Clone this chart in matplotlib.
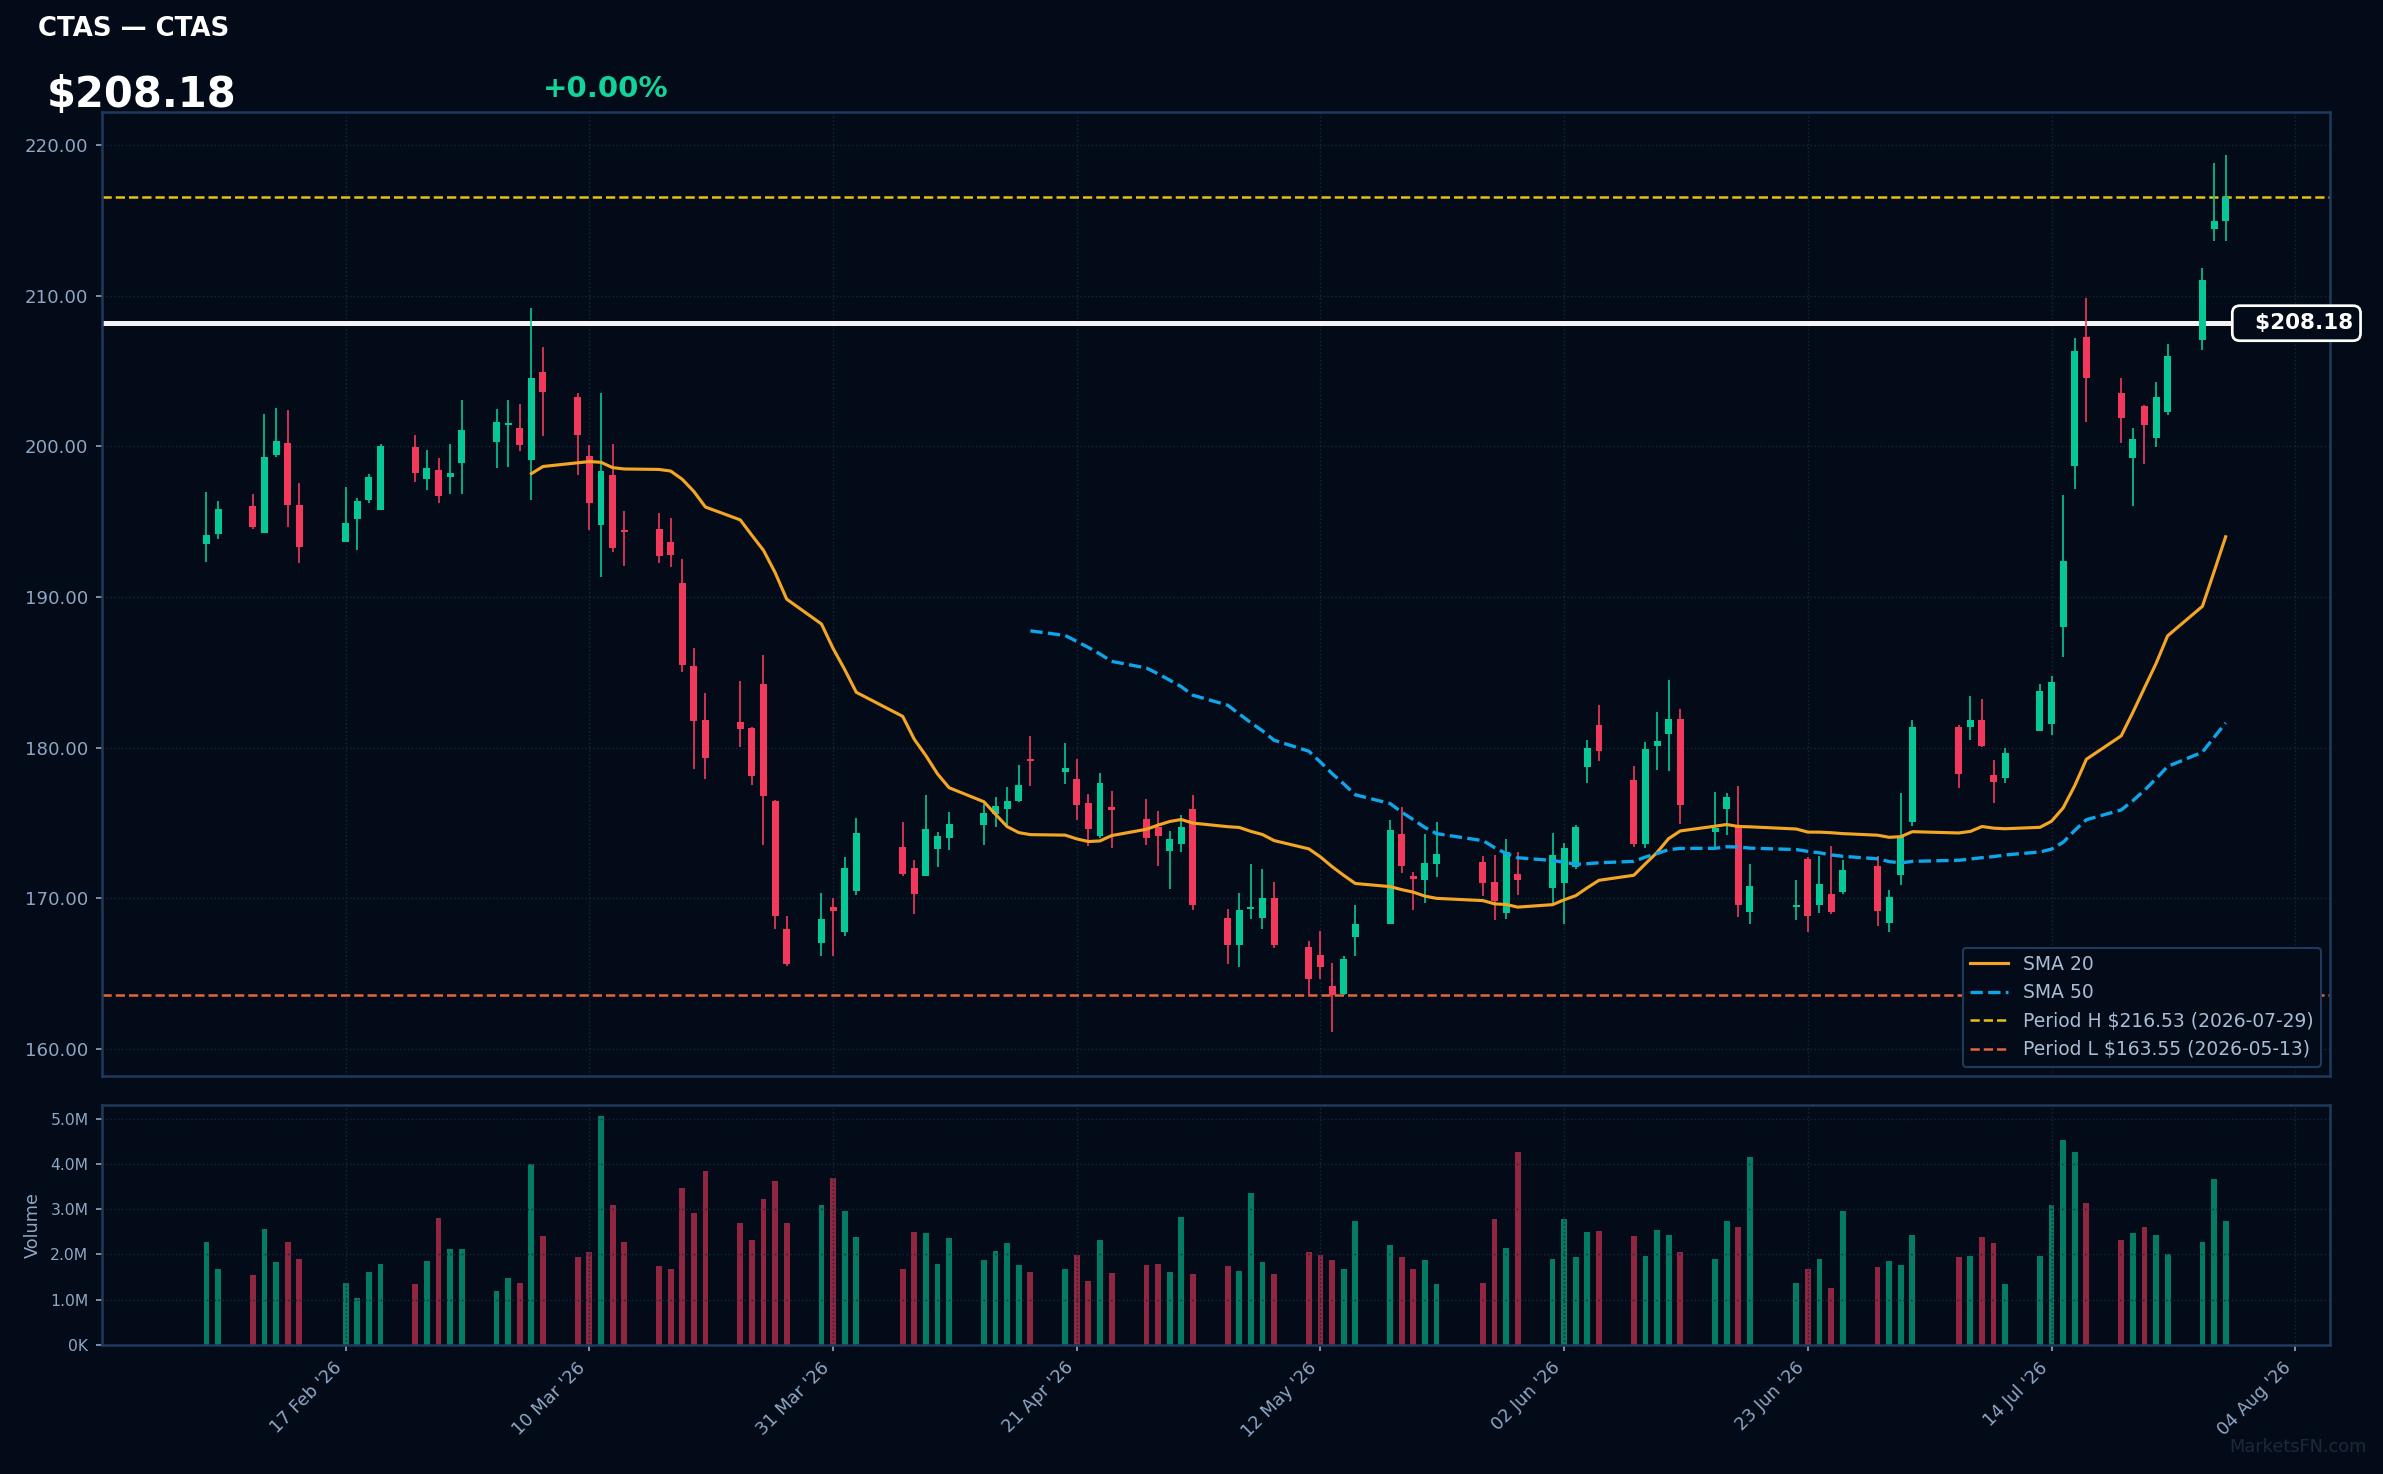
import matplotlib
matplotlib.use("Agg")
import matplotlib.pyplot as plt
import matplotlib.dates as mdates
import matplotlib.transforms as mtransforms
import numpy as np
import pandas as pd

# trading days (US market holidays skipped)
holidays = ["2026-02-16", "2026-04-03", "2026-05-25", "2026-06-19", "2026-07-03"]
dates = pd.bdate_range("2026-02-05", "2026-07-29", freq="C", holidays=holidays)

opens = [193.55, 194.21, 196.05, 194.28, 199.40, 200.24, 196.12, 193.66, 195.21, 196.45, 195.79, 199.96, 197.85, 198.45, 198.00, 198.87,
         200.27, 201.40, 201.24, 199.11, 204.97, 203.25, 199.35, 194.75, 198.10, 194.45, 194.50, 193.66, 190.93, 185.43, 181.86,
         181.72, 181.32, 184.24, 176.44, 167.94, 167.05, 169.43,
         167.75, 170.51, 173.41, 172.03, 171.49, 173.25, 173.98, 174.88, 175.61, 175.94, 176.47, 179.27, 178.39, 177.90, 176.31,
         174.15, 176.05, 175.25, 174.72, 173.16, 173.62,
         175.92, 168.70, 166.87, 169.27, 168.72, 170.00, 166.78, 166.23, 164.19, 163.66, 167.46, 168.32, 174.26, 171.40, 171.21,
         172.27, 172.41, 171.08, 169.03, 171.61,
         170.71, 171.04, 172.10, 178.72, 181.48, 177.84, 173.62, 180.11, 180.91, 181.88, 174.41, 175.94, 174.75, 169.12, 169.40,
         172.64, 169.53, 170.30, 170.43, 172.17, 168.36,
         171.54, 175.05, 181.37, 181.37, 181.84, 178.16, 177.99, 181.10, 181.57, 187.99, 198.73, 207.26, 203.55, 199.23, 202.68,
         200.57, 202.31, 207.06, 214.41, 214.95]
highs = [197.00, 196.39, 196.85, 202.17, 202.57, 202.44, 197.58, 197.32, 196.59, 198.18, 200.18, 200.78, 199.78, 199.25, 200.18, 203.10,
         202.51, 203.10, 202.84, 209.16, 206.63, 203.52, 200.08, 203.52, 200.19, 195.69, 195.59, 195.23, 192.53, 186.60, 183.64,
         184.43, 181.37, 186.16, 176.55, 168.83, 170.38, 170.02,
         172.76, 175.33, 175.09, 172.57, 176.88, 174.41, 175.74, 176.29, 176.71, 177.37, 178.83, 180.75, 180.29, 179.23, 176.91,
         178.30, 177.11, 176.58, 175.78, 174.46, 175.50,
         176.89, 169.27, 170.35, 172.27, 171.94, 171.08, 167.17, 167.84, 165.70, 166.18, 169.56, 175.19, 176.05, 171.74, 174.26,
         175.06, 172.80, 172.87, 173.93, 173.07,
         174.33, 173.66, 174.86, 180.49, 182.80, 178.76, 180.35, 182.34, 184.50, 182.54, 177.04, 176.98, 177.44, 172.27, 171.24,
         172.74, 172.78, 173.48, 172.54, 172.81, 170.57,
         176.96, 181.81, 181.51, 183.44, 183.24, 179.16, 179.97, 184.25, 184.75, 196.76, 207.19, 209.83, 204.55, 201.24, 202.74,
         204.25, 206.82, 211.87, 218.80, 219.36]
lows = [192.35, 193.88, 194.55, 194.28, 199.33, 194.66, 192.28, 193.66, 193.13, 196.21, 195.79, 197.65, 197.12, 196.25, 196.85, 196.87,
        198.54, 198.60, 199.71, 196.45, 200.71, 198.10, 194.42, 191.36, 193.01, 192.09, 192.28, 192.01, 185.00, 178.61, 177.90,
        180.02, 177.50, 173.57, 167.97, 165.53, 166.18, 166.18,
        167.51, 170.19, 171.49, 168.94, 171.49, 172.11, 173.19, 173.53, 174.75, 174.88, 176.40, 177.46, 177.59, 175.21, 173.49,
        173.97, 173.36, 173.55, 172.16, 170.64, 173.09,
        169.25, 165.67, 165.41, 168.63, 167.99, 166.73, 163.49, 164.61, 161.10, 163.58, 166.20, 168.32, 171.70, 169.23, 169.71,
        171.41, 170.15, 168.57, 168.65, 170.22,
        169.71, 168.32, 171.92, 177.66, 179.12, 173.42, 173.36, 178.52, 178.45, 174.94, 173.42, 174.19, 168.76, 168.32, 168.53,
        167.79, 169.03, 168.93, 170.27, 168.19, 167.79,
        170.87, 174.82, 177.32, 180.50, 180.07, 176.32, 177.63, 181.10, 180.84, 186.02, 197.16, 201.61, 200.20, 196.02, 198.83,
        199.97, 202.07, 206.39, 213.61, 213.61]
closes = [194.12, 195.85, 194.68, 199.31, 200.38, 196.08, 193.35, 194.92, 196.39, 197.98, 200.04, 198.25, 198.58, 196.72, 198.25, 201.11,
          201.64, 201.57, 200.07, 204.57, 203.59, 200.79, 196.26, 198.38, 193.28, 194.30, 192.74, 192.80, 185.46, 181.80, 179.34,
          181.21, 178.10, 176.82, 168.81, 165.66, 168.64, 169.13,
          172.03, 174.36, 171.62, 170.27, 174.60, 174.14, 174.95, 175.65, 176.11, 176.45, 177.51, 179.12, 178.68, 176.20, 174.61,
          177.64, 175.89, 174.02, 174.15, 173.93, 174.72,
          169.58, 166.87, 169.23, 169.37, 170.00, 166.91, 164.61, 165.41, 163.55, 165.98, 168.30, 174.53, 172.16, 171.30, 172.34,
          172.96, 171.02, 169.85, 173.05, 171.24,
          172.87, 173.33, 174.72, 179.96, 179.78, 173.62, 179.89, 180.42, 181.88, 176.18, 174.66, 176.71, 169.58, 170.82, 169.46,
          168.83, 170.97, 169.10, 171.87, 169.13, 170.07,
          174.15, 181.37, 178.23, 181.84, 180.13, 177.73, 179.63, 183.75, 184.35, 192.37, 206.32, 204.52, 201.87, 200.47, 201.40,
          203.31, 206.02, 211.07, 214.98, 216.53]
# volume in millions
volumes = [2.27, 1.69, 1.54, 2.56, 1.83, 2.27, 1.91, 1.38, 1.03, 1.61, 1.80, 1.34, 1.85, 2.80, 2.11, 2.11,
           1.19, 1.49, 1.38, 3.99, 2.40, 1.94, 2.05, 5.05, 3.09, 2.27, 1.74, 1.69, 3.46, 2.91, 3.84, 2.69, 2.33, 3.22, 3.62,
           2.69, 3.09, 3.68,
           2.97, 2.38, 1.69, 2.49, 2.47, 1.78, 2.36, 1.87, 2.07, 2.25, 1.76, 1.61, 1.67, 1.98, 1.41, 2.31, 1.58, 1.76, 1.80,
           1.61, 2.82,
           1.56, 1.74, 1.63, 3.35, 1.83, 1.56, 2.05, 1.98, 1.87, 1.69, 2.75, 2.20, 1.94, 1.69, 1.87, 1.34, 1.38, 2.78, 2.14, 4.26,
           1.89, 2.78, 1.94, 2.49, 2.51, 2.40, 1.96, 2.53, 2.44, 2.05, 1.91, 2.75, 2.60, 4.15, 1.36, 1.69, 1.89, 1.25, 2.95,
           1.72, 1.85,
           1.76, 2.42, 1.94, 1.96, 2.38, 2.25, 1.34, 1.96, 3.09, 4.52, 4.26, 3.13, 2.33, 2.47, 2.60, 2.44, 2.00, 2.27, 3.66, 2.75]

ticker = "CTAS"
last_price = 208.18
change_pct = 0.00
period_high = 216.53
period_high_date = "2026-07-29"
period_low = 163.55
period_low_date = "2026-05-13"

tick_dates = ["2026-02-17", "2026-03-10", "2026-03-31", "2026-04-21", "2026-05-12",
              "2026-06-02", "2026-06-23", "2026-07-14", "2026-08-04"]
tick_labels = ["17 Feb '26", "10 Mar '26", "31 Mar '26", "21 Apr '26", "12 May '26",
               "02 Jun '26", "23 Jun '26", "14 Jul '26", "04 Aug '26"]

BG = "#020b17"
GRID = "#16263b"
SPINE = "#1f3a5c"
TICK = "#8fa6c4"
GREEN = "#06c896"
RED = "#f2395c"

o = np.array(opens)
h = np.array(highs)
l = np.array(lows)
c = np.array(closes)
v = np.array(volumes) * 1e6
x = mdates.date2num(dates)
up = c >= o
cols = np.where(up, GREEN, RED)
sma20 = pd.Series(c).rolling(20).mean()
sma50 = pd.Series(c).rolling(50).mean()

fig = plt.figure(figsize=(2383 / 150, 1474 / 150), dpi=150, facecolor=BG)
ax = fig.add_axes([0.0428, 0.270, 0.935, 0.654], facecolor=BG)
axv = fig.add_axes([0.0428, 0.0875, 0.935, 0.1628], facecolor=BG, sharex=ax)

# candles
ax.vlines(x, l, h, colors=cols, linewidth=0.8, zorder=3)
ax.bar(x, np.maximum(np.abs(c - o), 0.15), bottom=np.minimum(o, c), width=0.6,
       color=cols, linewidth=0, zorder=3)

ax.plot(x, sma20, color="#f5a524", lw=1.5, zorder=4, label="SMA 20")
ax.plot(x, sma50, color="#0ea5e9", lw=1.6, ls="--", zorder=4, label="SMA 50")
ax.axhline(period_high, color="#e8c20c", lw=1.2, ls="--", zorder=2,
           label=f"Period H ${period_high:.2f} ({period_high_date})")
ax.axhline(period_low, color="#e8643a", lw=1.2, ls="--", zorder=2,
           label=f"Period L ${period_low:.2f} ({period_low_date})")
ax.axhline(last_price, color="#f4f4f4", lw=2.4, zorder=2.5)

trans = mtransforms.blended_transform_factory(ax.transAxes, ax.transData)
ax.text(1.0103, last_price, f"  ${last_price:.2f}", transform=trans, ha="right", va="center",
        fontsize=10.3, fontweight="bold", color="white", zorder=10, clip_on=False,
        bbox=dict(boxstyle="round,pad=0.35", fc=BG, ec="white", lw=1.3))

leg = ax.legend(loc="lower right", fontsize=9, facecolor=BG, edgecolor=SPINE,
                labelcolor="#a9bcd6", framealpha=1)
leg.get_frame().set_linewidth(1.0)

ax.set_xlim(mdates.date2num(pd.Timestamp("2026-01-27")), mdates.date2num(pd.Timestamp("2026-08-07")))
ax.set_ylim(158.2, 222.2)
ax.set_yticks([160, 170, 180, 190, 200, 210, 220])
ax.yaxis.set_major_formatter(plt.FuncFormatter(lambda val, pos: f"{val:.2f}"))
ax.tick_params(axis="y", colors=TICK, labelsize=8.7, length=3)
ax.tick_params(axis="x", labelbottom=False, length=0)
ax.grid(True, color=GRID, ls=":", lw=0.7)

# volume
axv.bar(x, v, width=0.5, color=cols, alpha=0.6, linewidth=0)
axv.set_ylim(0, 5.3e6)
axv.set_yticks([0, 1e6, 2e6, 3e6, 4e6, 5e6])
axv.yaxis.set_major_formatter(plt.FuncFormatter(
    lambda val, pos: f"{val / 1e6:.1f}M" if val >= 1e6 else f"{val / 1e3:.0f}K"))
axv.set_xticks(mdates.date2num(pd.to_datetime(tick_dates)))
axv.set_xticklabels(tick_labels, rotation=45, ha="right")
axv.tick_params(axis="y", colors=TICK, labelsize=7.5, length=3)
axv.tick_params(axis="x", colors=TICK, labelsize=8.5, length=3)
axv.set_ylabel("Volume", color=TICK, fontsize=8.5)
axv.grid(True, color=GRID, ls=":", lw=0.7)

for a in (ax, axv):
    for s in a.spines.values():
        s.set_color(SPINE)
        s.set_linewidth(1.2)

fig.text(0.0161, 0.9756, f"{ticker} — {ticker}", fontsize=12.5, fontweight="bold", color="white", va="baseline")
fig.text(0.0195, 0.9276, f"${last_price:.2f}", fontsize=20, fontweight="bold", color="white", va="baseline")
fig.text(0.2280, 0.934, f"+{change_pct:.2f}%", fontsize=14, fontweight="bold", color="#12d39a", va="baseline")
fig.text(0.993, 0.018, "MarketsFN.com", fontsize=8.5, color="#1b2a3b", ha="right", va="center")

fig.savefig("out.png", dpi=150, facecolor=BG)
